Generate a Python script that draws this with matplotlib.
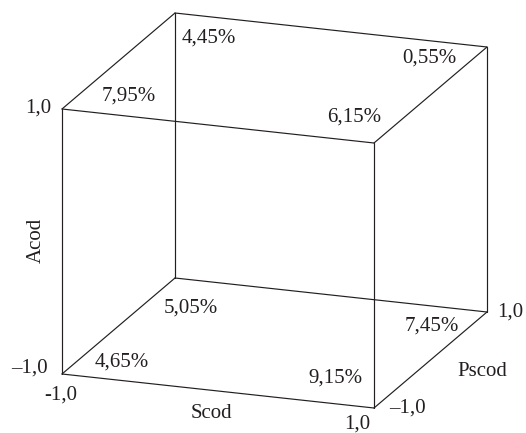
import itertools
import numpy as np
import matplotlib
matplotlib.use("Agg")
import matplotlib.pyplot as plt

# valores nos vertices do cubo (Scod, Pscod, Acod)
scod = [-1, -1, 1, 1, -1, -1, 1, 1]
pscod = [-1, 1, 1, -1, 1, -1, -1, 1]
acod = [1, 1, 1, 1, -1, -1, -1, -1]
valores = ["7,95%", "4,45%", "0,55%", "6,15%", "5,05%", "4,65%", "9,15%", "7,45%"]

# deslocamento dos rotulos em relacao ao vertice (pixels, y para baixo)
desloc = [(67, -13), (34, 25), (-58, 11), (-20, -26),
          (16, 30), (60, -12), (-39, -30), (-55, 14)]

cor = "#231f20"
plt.rcParams["font.family"] = ["Liberation Serif", "DejaVu Serif"]

# projecao obliqua do cubo para coordenadas da figura (pixels)
centro = np.array([274.5, 210.5])
eixo_s = np.array([156.0, 17.0])
eixo_p = np.array([56.5, -48.0])
eixo_a = np.array([0.0, -132.5])


def proj(s, p, a):
    return centro + s * eixo_s + p * eixo_p + a * eixo_a


fig = plt.figure(figsize=(5.26, 4.33), dpi=100)
ax = fig.add_axes([0, 0, 1, 1])
ax.set_xlim(0, 526)
ax.set_ylim(433, 0)
ax.axis("off")

# arestas do cubo: pares de vertices que diferem em uma coordenada
vertices = list(itertools.product([-1, 1], repeat=3))
for v1, v2 in itertools.combinations(vertices, 2):
    if sum(a != b for a, b in zip(v1, v2)) == 1:
        p1, p2 = proj(*v1), proj(*v2)
        ax.plot([p1[0], p2[0]], [p1[1], p2[1]], color=cor, lw=0.85,
                solid_capstyle="round")

fs = 15
for s, p, a, txt, (dx, dy) in zip(scod, pscod, acod, valores, desloc):
    x, y = proj(s, p, a)
    ax.annotate(txt, (x, y), xytext=(dx, -dy), textcoords="offset pixels",
                ha="center", va="center", fontsize=fs, color=cor)

# marcas dos eixos
marcas = [
    ((-1, -1, 1), "1,0", (-24, -1)),
    ((-1, -1, -1), "\u20131,0", (-33, -6)),
    ((-1, -1, -1), "-1,0", (-1, 21)),
    ((1, -1, -1), "1,0", (-17, 16)),
    ((1, -1, -1), "\u20131,0", (33, 0)),
    ((1, 1, -1), "1,0", (23, 0)),
]
for v, txt, (dx, dy) in marcas:
    x, y = proj(*v)
    ax.annotate(txt, (x, y), xytext=(dx, -dy), textcoords="offset pixels",
                ha="center", va="center", fontsize=fs, color=cor)

# nomes dos eixos
nomes = [
    ((0, -1, -1), "Scod", (-7, 23), 0),
    ((1, 0, -1), "Pscod", (52, 11), 0),
    ((-1, -1, 0), "Acod", (-26, -1), 90),
]
for v, txt, (dx, dy), rot in nomes:
    x, y = proj(*v)
    ax.annotate(txt, (x, y), xytext=(dx, -dy), textcoords="offset pixels",
                ha="center", va="center", fontsize=fs, color=cor,
                rotation=rot)

fig.savefig("out.png", dpi=100)
